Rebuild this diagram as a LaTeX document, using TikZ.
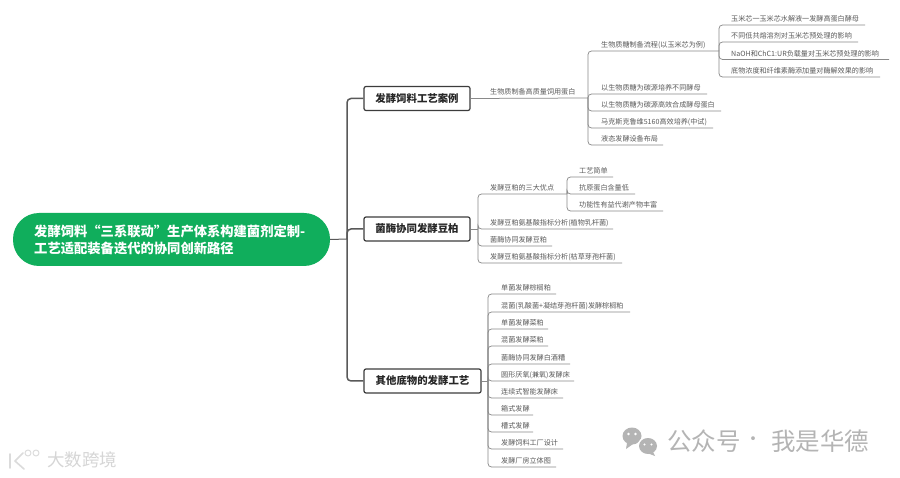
\documentclass[tikz,border=0pt]{standalone}
\usepackage{fontspec}
\setmainfont{Noto Sans CJK SC}
\definecolor{rootgreen}{HTML}{10AE5C}
\definecolor{leafink}{HTML}{5A5A5A}
\definecolor{leafline}{HTML}{8A8A8A}
\definecolor{boxline}{HTML}{3C3C3C}
\definecolor{wm}{HTML}{B4B4B4}
\tikzset{
  leaftext/.style={anchor=west,inner sep=0pt,text=leafink,font=\fontsize{7.1}{8}\selectfont},
  leafconn/.style={draw=leafline,line width=0.75pt,rounded corners=3.5pt},
  mainbox/.style={draw=boxline,line width=1.2pt,rounded corners=2pt,fill=white,text=black!85,inner sep=0pt,font=\fontsize{10.4}{12}\bfseries\selectfont},
  trunk/.style={draw=boxline!85,line width=1.5pt,rounded corners=4pt},
  wmtext/.style={text=wm,inner sep=0pt,font=\fontsize{24.5}{27}\selectfont},
}
\newcommand{\leaf}[6]{%
  \node[leaftext] (#1) at (#3,#4-6) {#6};
  \coordinate (#1-e) at (#5,#4);
  \draw[leafconn] (#2) |- (#1-e);
}
\begin{document}
\begin{tikzpicture}[x=1pt,y=-1pt]
\useasboundingbox[fill=white] (0,0) rectangle (900,478);

% root and main branches
\node[fill=rootgreen,rounded corners=26pt,minimum width=317pt,minimum height=53pt,inner sep=0pt] (root) at (171.5,239.5) {};
\node[anchor=west,inner sep=0pt,text=white,align=left,font=\fontsize{13.3}{17.8}\bfseries\selectfont] (roottext) at (34,240) {发酵饲料“三系联动”生产体系构建菌剂定制-\\工艺适配装备迭代的协同创新路径};
\node[mainbox,minimum width=106pt,minimum height=24pt] (b1) at (417,98.5) {发酵饲料工艺案例};
\node[mainbox,minimum width=106pt,minimum height=24pt] (b2) at (417,229) {菌酶协同发酵豆柏};
\node[mainbox,minimum width=117pt,minimum height=24pt] (b3) at (422.5,381) {其他底物的发酵工艺};
\coordinate (tr) at (347,239);
\draw[draw=boxline!85,line width=1pt] (root.east) -- (tr);
\draw[trunk] (tr) |- (b1.west);
\draw[trunk] (tr) |- (b2.west);
\draw[trunk] (tr) |- (b3.west);

% branch 1
\node[leaftext] (p1) at (490,92) {生物质制备高质量饲用蛋白};
\coordinate (s1) at (588,98);
\draw[draw=leafline,line width=0.75pt] (b1.east) -- (s1);
\leaf{a1}{s1}{601}{51}{719}{生物质糖制备流程(以玉米芯为例)}
\coordinate (s1a) at (719,51);
\leaf{a11}{s1a}{731}{25}{865}{玉米芯一玉米芯水解液一发酵高蛋白酵母}
\leaf{a12}{s1a}{731}{42}{858}{不同低共熔溶剂对玉米芯预处理的影响}
\leaf{a13}{s1a}{731}{59.5}{889}{NaOH和ChC1:UR负载量对玉米芯预处理的影响}
\leaf{a14}{s1a}{731}{77}{880}{底物浓度和纤维素酶添加量对酶解效果的影响}
\leaf{a2}{s1}{601}{94}{707}{以生物质糖为碳源培养不同酵母}
\leaf{a3}{s1}{601}{111}{721}{以生物质糖为碳源高效合成酵母蛋白}
\leaf{a4}{s1}{601}{128}{713}{马克斯克鲁维5160高效培养(中试)}
\leaf{a5}{s1}{601}{145}{663}{液态发酵设备布局}

% branch 2
\coordinate (s2) at (478,229);
\leaf{c1}{s2}{490}{194}{567}{发酵豆粕的三大优点}
\coordinate (s2a) at (567,194);
\leaf{c11}{s2a}{579}{177}{613}{工艺简单}
\leaf{c12}{s2a}{579}{194}{635}{抗原蛋白含量低}
\leaf{c13}{s2a}{579}{211}{663}{功能性有益代谢产物丰富}
\leaf{c2}{s2}{490}{229}{613}{发酵豆粕氨基酸指标分析(植物乳杆菌)}
\draw[draw=leafline,line width=0.75pt] (b2.east) -- (s2);
\leaf{c3}{s2}{490}{246}{552}{菌酶协同发酵豆粕}
\leaf{c4}{s2}{490}{263}{622}{发酵豆粕氨基酸指标分析(枯草芽孢杆菌)}

% branch 3
\coordinate (s3) at (488,381);
\draw[draw=leafline,line width=0.75pt] (b3.east) -- (s3);
\leaf{d1}{s3}{501}{294}{556}{单菌发酵棕榈粕}
\leaf{d2}{s3}{501}{312}{630}{混菌(乳酸菌+凝结芽孢杆菌)发酵棕榈粕}
\leaf{d3}{s3}{501}{329}{548}{单菌发酵菜粕}
\leaf{d4}{s3}{501}{346}{548}{混菌发酵菜粕}
\leaf{d5}{s3}{501}{364}{570}{菌酶协同发酵白酒糟}
\leaf{d6}{s3}{501}{381}{574}{圆形厌氧(兼氧)发酵床}
\leaf{d7}{s3}{501}{398}{563}{连续式智能发酵床}
\leaf{d8}{s3}{501}{415}{533}{箱式发酵}
\leaf{d9}{s3}{501}{432}{533}{槽式发酵}
\leaf{d10}{s3}{501}{449}{563}{发酵饲料工厂设计}
\leaf{d11}{s3}{501}{467}{556}{发酵厂房立体图}

% watermark, right
\fill[wm] (632,436) ellipse (9.5pt and 8.5pt);
\fill[wm] (627,443) -- (626,449) -- (633,444) -- cycle;
\fill[white] (648,446) ellipse (10.5pt and 9.5pt);
\fill[wm] (648,446) ellipse (9pt and 8pt);
\fill[wm] (653,452) -- (655,456) -- (647,453) -- cycle;
\fill[white] (628.5,434) circle (1.4pt) (635.5,434) circle (1.4pt) (644.5,444.5) circle (1.2pt) (651.5,444.5) circle (1.2pt);
\node[wmtext,anchor=west] (wmr) at (667,441.5) {公众号};
\node[wmtext,anchor=center,font=\fontsize{18}{20}\selectfont] (wmd) at (753,441.5) {·};
\node[wmtext,anchor=west] (wmn) at (771,441.5) {我是华德};

% watermark, left
\begin{scope}[draw=black!14,line width=1.6pt,line cap=round,line join=round]
\draw (10,454) -- (10,468);
\draw (23,453) -- (15,461) -- (24,469);
\draw[line width=1pt] (28,453) circle (3pt) (36,453) circle (3pt);
\end{scope}
\node[anchor=west,inner sep=0pt,text=black!16,font=\fontsize{17.5}{20}\selectfont] (wml) at (47,460) {大数跨境};
\end{tikzpicture}
\end{document}
